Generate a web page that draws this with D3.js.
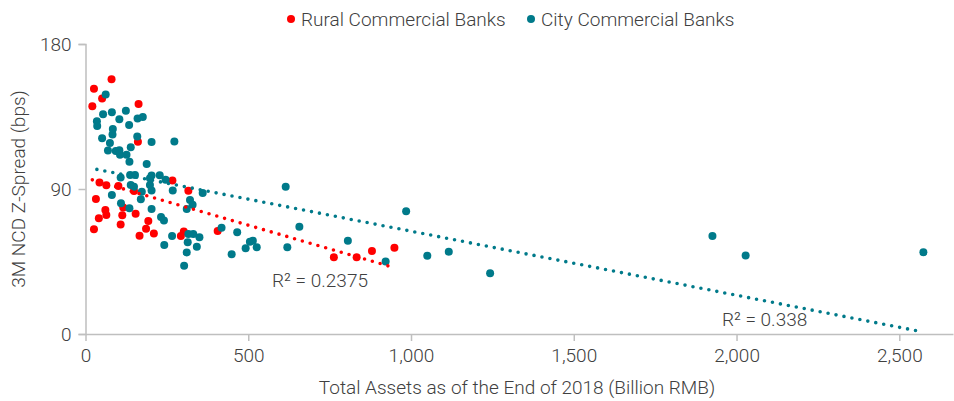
<!DOCTYPE html>
<html>
<head>
<meta charset="utf-8">
<script src="https://cdn.jsdelivr.net/npm/d3@7/dist/d3.min.js"></script>
<style>
  html, body { margin: 0; padding: 0; background: #fff; }
  text { font-family: Roboto, "Noto Sans", sans-serif; font-weight: 300; fill: #404040; }
</style>
</head>
<body>
<svg id="chart" width="954" height="401"></svg>
<script>
// ---- Data ----
const seriesNames = ["Rural Commercial Banks", "City Commercial Banks"];
const seriesColors = ["#FF0000", "#007A8A"];

// Rural Commercial Banks: [total assets (bn RMB), 3M NCD Z-spread (bps)]
const ruralAssets = [26, 80, 21, 51, 163, 161, 267, 316, 43, 64, 101, 32, 61, 64, 41, 26,
  116, 113, 108, 154, 193, 186, 166, 210, 293, 302, 406, 763, 833, 880, 949, 149];
const ruralSpread = [152.3, 158.1, 141.4, 146.2, 142.8, 119.4, 95.3, 88.9, 94.0, 92.3, 91.9, 83.8,
  77.0, 73.9, 71.8, 65.0, 78.5, 73.7, 68.0, 74.6, 70.1, 65.4, 61.0, 62.4, 60.8, 63.6, 63.9,
  47.6, 47.6, 51.5, 53.5, 88.8];

// City Commercial Banks
const cityAssets = [62, 54, 81, 124, 104, 134, 160, 176, 35, 36, 84, 83, 51, 159, 203, 273,
  75, 69, 93, 104, 106, 126, 139, 135, 188, 108, 137, 152, 203, 228, 198, 246, 139, 149, 198,
  203, 173, 268, 360, 81, 109, 135, 170, 203, 321, 329, 311, 232, 241, 418, 466, 266, 316,
  331, 350, 314, 342, 242, 311, 303, 449, 492, 505, 514, 526, 620, 657, 615, 806, 922, 985,
  1050, 1116, 1243, 1926, 2028, 2574];
const citySpread = [148.7, 136.4, 137.7, 138.5, 133.3, 129.7, 133.8, 134.7, 132.1, 129.1, 127.3,
  123.8, 121.5, 122.6, 119.2, 119.5, 118.6, 113.9, 113.6, 114.0, 111.3, 111.3, 115.9, 106.9,
  105.5, 97.1, 98.7, 98.7, 98.4, 98.5, 96.6, 95.7, 92.5, 91.4, 92.5, 89.1, 88.3, 89.1, 87.5,
  86.3, 81.1, 78.0, 83.6, 77.6, 83.2, 80.3, 77.6, 72.6, 70.4, 65.9, 63.1, 60.8, 62.1, 62.1,
  60.0, 56.9, 54.2, 55.2, 50.6, 42.3, 49.5, 53.2, 57.3, 57.9, 53.8, 53.8, 66.6, 91.4, 57.9,
  45.0, 76.2, 48.6, 51.1, 37.7, 60.8, 48.8, 50.7];

// Linear trend lines (slope, intercept, R²) as shown on the chart
const trendSlope = [-0.05876, -0.03976];
const trendIntercept = [96.9, 103.57];
const trendR2 = ["R² = 0.2375", "R² = 0.338"];
const r2LabelPos = [[573, 29.2], [1955, 5.0]]; // in data units

const xTicks = [0, 500, 1000, 1500, 2000, 2500];
const yTicks = [0, 90, 180];
const xTitle = "Total Assets as of the End of 2018 (Billion RMB)";
const yTitle = "3M NCD Z-Spread (bps)";

// ---- Chart ----
const svg = d3.select("#chart");
const x = d3.scaleLinear().domain([0, 2665]).range([85.5, 953]);
const y = d3.scaleLinear().domain([0, 180]).range([334, 44]);
const axisColor = "#BFBFBF";
const fs = "19px";

// Y axis
const yAxis = svg.append("g").attr("transform", `translate(${x(0)},0)`)
  .call(d3.axisLeft(y).tickValues(yTicks).tickSize(7).tickPadding(7).tickFormat(d3.format("d")));
yAxis.select(".domain").attr("stroke", axisColor).attr("stroke-width", 1.5);
yAxis.selectAll(".tick line").attr("stroke", axisColor).attr("stroke-width", 1.5);
yAxis.selectAll(".tick text").style("font-size", fs).style("font-family", "Roboto").attr("fill", "#404040");

// X axis
const xAxis = svg.append("g").attr("transform", `translate(0,${y(0)})`)
  .call(d3.axisBottom(x).tickValues(xTicks).tickSize(7).tickSizeOuter(0).tickPadding(8).tickFormat(d3.format(",")));
xAxis.select(".domain").attr("stroke", axisColor).attr("stroke-width", 1.5);
xAxis.selectAll(".tick line").attr("stroke", axisColor).attr("stroke-width", 1.5);
xAxis.selectAll(".tick text").style("font-size", fs).style("font-family", "Roboto").attr("fill", "#404040");

// Axis titles
svg.append("text").attr("x", 517).attr("y", 394).attr("text-anchor", "middle")
  .style("font-size", fs).text(xTitle);
svg.append("text").attr("transform", `translate(25,${(y(0) + y(180)) / 2}) rotate(-90)`)
  .attr("text-anchor", "middle").style("font-size", fs).text(yTitle);

// Points
const seriesData = [
  ruralAssets.map((a, i) => [a, ruralSpread[i]]),
  cityAssets.map((a, i) => [a, citySpread[i]])
];
seriesData.forEach((pts, s) => {
  svg.append("g").selectAll("circle").data(pts).join("circle")
    .attr("cx", d => x(d[0])).attr("cy", d => y(d[1])).attr("r", 4)
    .attr("fill", seriesColors[s]);
});

// Trend lines
seriesData.forEach((pts, s) => {
  const ext = d3.extent(pts, d => d[0]);
  const f = v => trendSlope[s] * v + trendIntercept[s];
  svg.append("line")
    .attr("x1", x(ext[0])).attr("y1", y(f(ext[0])))
    .attr("x2", x(ext[1])).attr("y2", y(f(ext[1])))
    .attr("stroke", seriesColors[s]).attr("stroke-width", 3.6)
    .attr("stroke-linecap", "round").attr("stroke-dasharray", "0 8.1");
  svg.append("text").attr("x", x(r2LabelPos[s][0])).attr("y", y(r2LabelPos[s][1]))
    .style("font-size", fs).text(trendR2[s]);
});

// Legend
const legendX = [291, 531];
seriesNames.forEach((n, i) => {
  svg.append("circle").attr("cx", legendX[i]).attr("cy", 19).attr("r", 4).attr("fill", seriesColors[i]);
  svg.append("text").attr("x", legendX[i] + 10).attr("y", 26).style("font-size", fs).text(n);
});
</script>
</body>
</html>
